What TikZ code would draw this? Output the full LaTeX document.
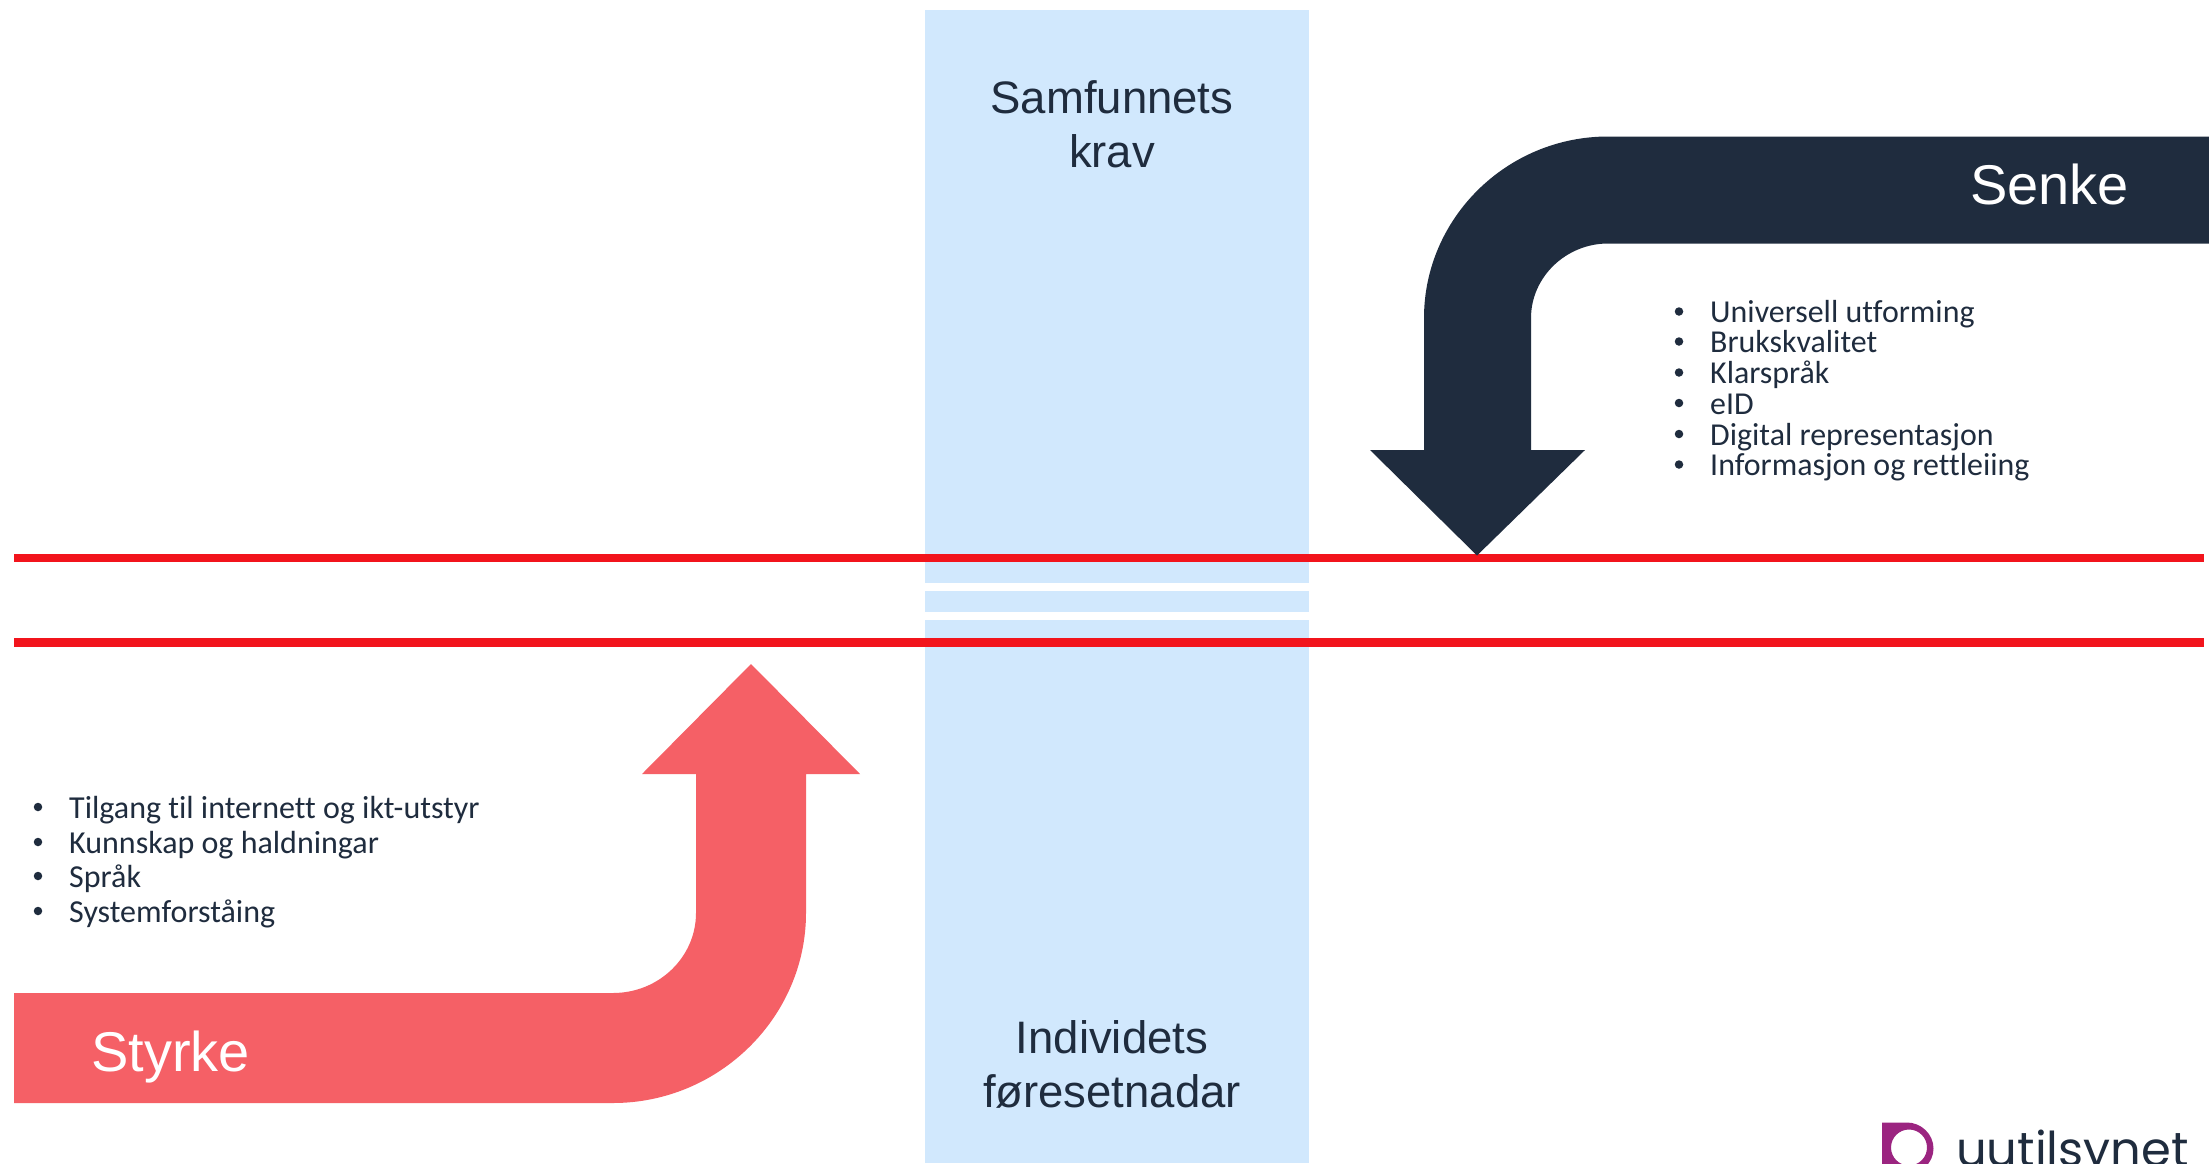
\documentclass[tikz,border=0pt]{standalone}
\usepackage{fontspec}
\setmainfont{Liberation Sans}
\newfontfamily\listfont[RawFeature={-liga;-clig;-dlig}]{Carlito}
\newfontfamily\logofont{Poppins}
\definecolor{bandblue}{HTML}{D1E8FD}
\definecolor{linered}{HTML}{F2141C}
\definecolor{navy}{HTML}{1F2C3E}
\definecolor{coral}{HTML}{F56066}
\definecolor{logomag}{HTML}{9B2480}
\tikzset{
  x=1pt,y=-1pt,
  band/.style={fill=bandblue,draw=none},
  redline/.style={fill=linered,draw=none},
  title/.style={anchor=base,inner sep=0pt,text=navy,font=\fontsize{45.5}{54}\selectfont},
  armlabel/.style={anchor=base west,inner sep=0pt,text=white,font=\fontsize{56}{60}\selectfont},
  item/.style={anchor=base west,inner sep=0pt,text=navy,font=\listfont\fontsize{31.9}{34}\selectfont},
  itemb/.style={anchor=base west,inner sep=0pt,text=navy,font=\listfont\fontsize{32}{36}\selectfont},
  dot/.style={circle,fill=navy,draw=none,inner sep=0pt,minimum size=8.5pt},
}
\begin{document}
\begin{tikzpicture}
\useasboundingbox (0,0) rectangle (2209,1163);
\begin{scope}
\clip (0,0) rectangle (2209,1163);
\fill[white] (0,0) rectangle (2209,1163);
% band
\fill[band] (925,10) rectangle (1309,582.7);
\fill[band] (925,591) rectangle (1309,611.5);
\fill[band] (925,620) rectangle (1309,1163);
% red lines
\fill[redline] (14,553.5) rectangle (2204,562);
\fill[redline] (14,638) rectangle (2204,646.5);
% Senke arrow
\fill[navy] (2209,136.5) -- (1608,136.5) .. controls (1507,136.5) and (1424,218) .. (1424,318)
  -- (1424,450) -- (1370,450) -- (1477,555.5) -- (1585,450) -- (1531,450) -- (1531,318)
  .. controls (1531,277) and (1566,243.5) .. (1608,243.5) -- (2209,243.5) -- cycle;
% Styrke arrow
\fill[coral] (14,993) -- (613,993) .. controls (659,993) and (696,957) .. (696,913)
  -- (696,774) -- (642,774) -- (751,664) -- (860,774) -- (806,774) -- (806,913)
  .. controls (806,1017) and (719,1103) .. (613,1103) -- (14,1103) -- cycle;
% titles
\node[title] (t1) at (1112,113) {Samfunnets};
\node[title] (t2) at (1112,167) {krav};
\node[title] (t3) at (1112,1053) {Individets};
\node[title] (t4) at (1112,1107) {føresetnadar};
\node[armlabel] (senke) at (1970,204) {Senke};
\node[armlabel] (styrke) at (91,1071.5) {Styrke};
% right list
\foreach \n/\yy/\txt in {a/322.5/Universell utforming,b/352.5/Brukskvalitet,c/383.5/Klarspråk,d/414/eID,e/445/Digital representasjon,f/475.5/Informasjon og rettleiing}{
  \node[dot] (rd\n) at (1679,\yy-11) {};
  \node[item] (r\n) at (1710,\yy) {\txt};
}
% left list
\foreach \n/\yy/\txt in {a/818/Tilgang til internett og ikt-utstyr,b/853/Kunnskap og haldningar,c/887/Språk,d/922/Systemforståing}{
  \node[dot] (ld\n) at (38,\yy-11) {};
  \node[itemb] (l\n) at (69,\yy) {\txt};
}
% logo
\fill[logomag,even odd rule] (1882,1122.5) -- (1907,1122.5) .. controls (1921,1122.5) and (1933.5,1134) .. (1933.5,1148.5)
  .. controls (1933.5,1163) and (1921,1174) .. (1907,1174) -- (1882,1174) -- cycle
  (1909,1147.5) circle[radius=18];
\node[anchor=base west,inner sep=0pt,text=navy,font=\logofont\fontsize{48}{50}\selectfont] (logo) at (1956,1166) {uutilsynet};
\end{scope}
\end{tikzpicture}
\end{document}
